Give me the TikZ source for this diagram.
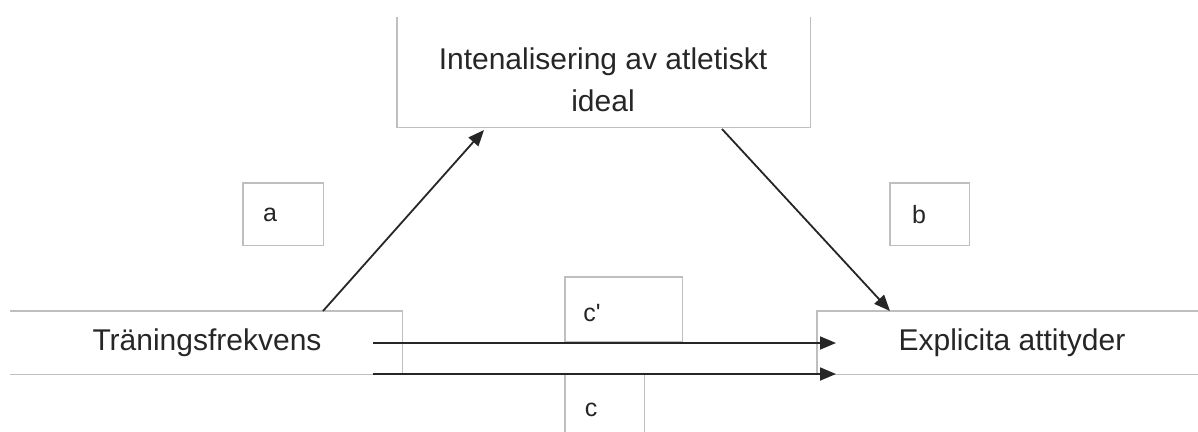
\documentclass[tikz,border=0pt]{standalone}
\usepackage{fontspec}
\setmainfont{Liberation Sans}
\newfontfamily\plainsans{Liberation Sans}[Mapping=]
\usetikzlibrary{arrows.meta}
\definecolor{boxgray}{HTML}{BFBFBF}
\definecolor{linedark}{HTML}{262626}
\definecolor{txt}{HTML}{262626}
\begin{document}
\begin{tikzpicture}[x=1pt,y=-1pt,
  frame/.style={draw=none, inner sep=0pt, anchor=north west},
  edge/.style={draw=boxgray, line width=1.1pt},
  big/.style={inner sep=0pt, text=txt, font=\fontsize{30}{42}\selectfont, align=center},
  small/.style={inner sep=0pt, text=txt, font=\plainsans\fontsize{25}{30}\selectfont},
  conn/.style={draw=linedark, line width=1.8pt, -{Triangle[length=16pt,width=13pt]}}]
\useasboundingbox (0,0) rectangle (1198,431);
\clip (0,0) rectangle (1198,431);
% boxes
\node[frame, minimum width=413pt, minimum height=110pt] (ideal) at (397,17) {};
\node[frame, minimum width=392pt, minimum height=63pt] (tf) at (10,311) {};
\node[frame, minimum width=400pt, minimum height=63pt] (ea) at (817,311) {};
\node[frame, minimum width=80pt, minimum height=62pt] (abox) at (243,183) {};
\node[frame, minimum width=79pt, minimum height=62pt] (bbox) at (890,183) {};
\node[frame, minimum width=117pt, minimum height=64pt] (cpbox) at (565,277) {};
\node[frame, minimum width=79pt, minimum height=80pt] (cbox) at (565,374) {};
% visible edges
\draw[edge] (ideal.north west) -- (ideal.south west) -- (ideal.south east) -- (ideal.north east);
\draw[edge] (tf.north west) -- (tf.north east) -- (tf.south east) -- (tf.south west);
\draw[edge] (ea.north east) -- (ea.north west) -- (ea.south west) -- (ea.south east);
\draw[edge] (abox.north west) rectangle (abox.south east);
\draw[edge] (bbox.north west) rectangle (bbox.south east);
\draw[edge] (cpbox.north west) rectangle (cpbox.south east);
\draw[edge] (cbox.south west) -- (cbox.north west) -- (cbox.north east) -- (cbox.south east);
% texts
\node[big] (tideal) at (603,80) {Intenalisering av atletiskt\\ideal};
\node[big] (ttf) at (207,343) {Träningsfrekvens};
\node[big] (tea) at (1012,343) {Explicita attityder};
\node[small] (ta) at (270,215) {a};
\node[small] (tb) at (919,215) {b};
\node[small] (tcp) at (592,313) {c'};
\node[small] (tc) at (591,410) {c};
% connector end points
\coordinate (aStart) at (323,311);
\coordinate (aEnd) at (484,130);
\coordinate (bStart) at (722,129);
\coordinate (bEnd) at (890,311);
\coordinate (cpStart) at (373,343);
\coordinate (cpEnd) at (836,343);
\coordinate (cStart) at (373,374);
\coordinate (cEnd) at (836,374);
\draw[conn] (aStart) -- (aEnd);
\draw[conn] (bStart) -- (bEnd);
\draw[conn] (cpStart) -- (cpEnd);
\draw[conn] (cStart) -- (cEnd);
\end{tikzpicture}
\end{document}
